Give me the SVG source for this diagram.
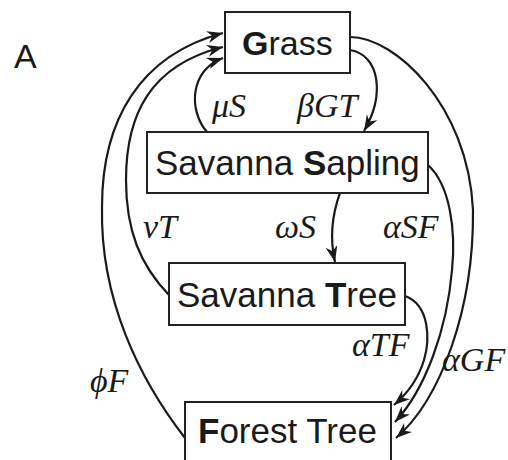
<svg xmlns="http://www.w3.org/2000/svg" width="508" height="460" viewBox="0 0 508 460">
<style>
.box{fill:#fff;stroke:#222;stroke-width:2}
.lbl{font-family:"Liberation Sans",Arial,sans-serif;font-size:35px;fill:#1a1a1a}
.b{font-weight:bold}
.math{font-family:"Liberation Serif","DejaVu Serif",serif;font-style:italic;font-size:34px;fill:#1a1a1a}
.edge{fill:none;stroke:#1a1a1a;stroke-width:2.2;marker-end:url(#arr)}
</style>
<defs>
<marker id="arr" markerUnits="userSpaceOnUse" markerWidth="18" markerHeight="14" refX="16" refY="6" orient="auto">
<path d="M0,0 L16,6 L0,12 L5,6 z" fill="#1a1a1a"/>
</marker>
</defs>
<rect width="508" height="460" fill="#fff"/>
<text x="14" y="68" font-family="Liberation Sans,Arial,sans-serif" font-size="34" fill="#1a1a1a">A</text>
<g id="connectors">
<path class="edge" d="M185,438 C140,380 100,300 102,207 C102,120 140,55 223,33"/>
<path class="edge" d="M169,295 C140,265 126,230 126,180 C126,115 150,65 223,47"/>
<path class="edge" d="M207,132 C188,110 190,70 223,58"/>
<path class="edge" d="M350,50 C380,55 385,95 364,131"/>
<path class="edge" d="M350,37 C395,37 468,105 473,210 C474,310 440,400 396,438"/>
<path class="edge" d="M428,165 C450,185 456,230 452,270 C447,330 425,390 395,422"/>
<path class="edge" d="M405,296 C430,305 430,340 424,360 C418,380 408,393 394,405"/>
<path class="edge" d="M340,193 C332,215 330,240 335,262"/>
<text class="math" x="212" y="117">μS</text>
<text class="math" x="297" y="117">βGT</text>
<text class="math" x="143" y="238">νT</text>
<text class="math" x="275" y="238">ωS</text>
<text class="math" x="383" y="238">αSF</text>
<text class="math" x="352" y="356">αTF</text>
<text class="math" x="442" y="371">αGF</text>
<text class="math" x="90" y="392">ϕF</text>
</g>
<g id="grass">
<rect class="box" x="225" y="12" width="125" height="61"/>
<text class="lbl" x="242" y="55" style="font-size:34px"><tspan class="b">G</tspan>rass</text>
</g>
<g id="sapling">
<rect class="box" x="147" y="132" width="281" height="61"/>
<text class="lbl" x="155" y="175">Savanna <tspan class="b">S</tspan>apling</text>
</g>
<g id="savanna-tree">
<rect class="box" x="169" y="263" width="236" height="62"/>
<text class="lbl" x="177" y="307">Savanna <tspan class="b">T</tspan>ree</text>
</g>
<g id="forest-tree">
<rect class="box" x="185" y="402" width="206" height="80"/>
<text class="lbl" x="198" y="443"><tspan class="b">F</tspan>orest Tree</text>
</g>
</svg>
